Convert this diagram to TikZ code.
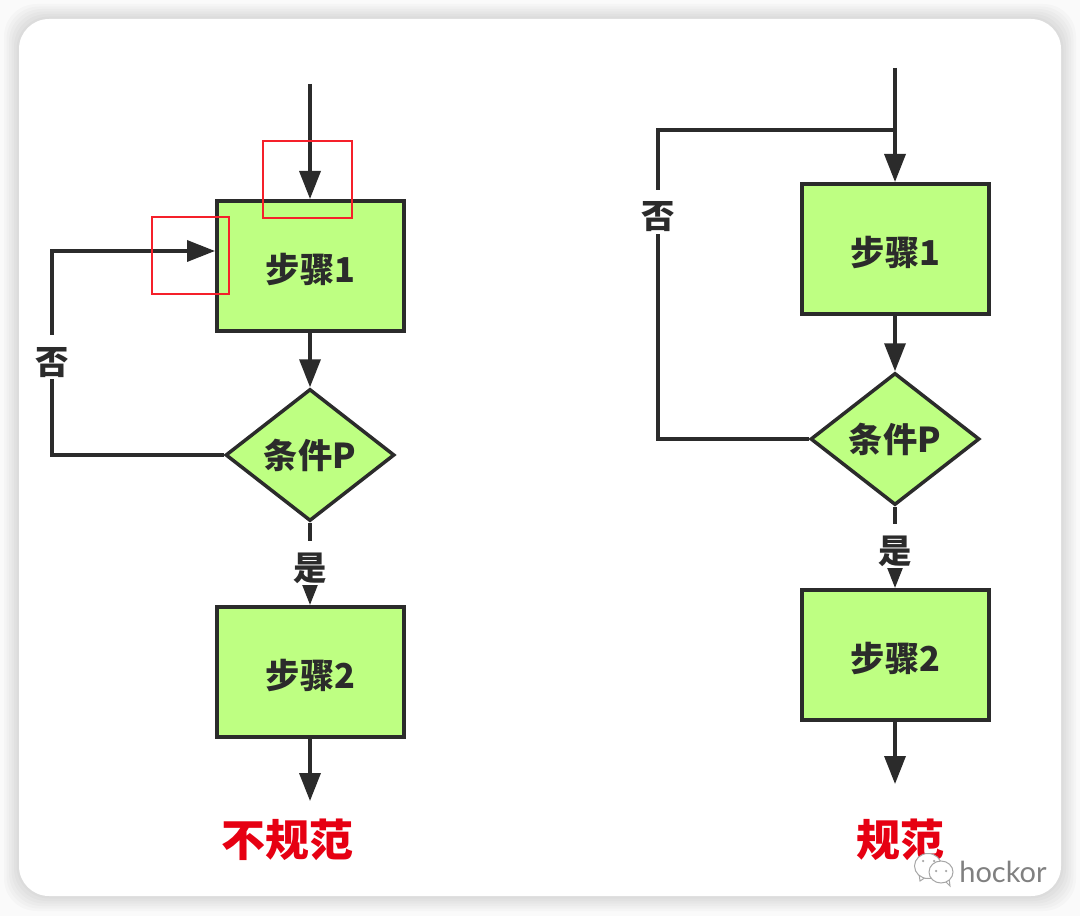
\documentclass[tikz,border=0pt]{standalone}
\usepackage{fontspec}
\usepackage{tikz}
\usetikzlibrary{arrows.meta,shapes.geometric}
\newfontfamily\cjk{Noto Sans CJK SC}
\setsansfont{Lato}
\definecolor{inkdark}{HTML}{2B2B2B}
\definecolor{boxgreen}{HTML}{BEFF82}
\definecolor{markred}{HTML}{F5202A}
\definecolor{tagred}{HTML}{E60012}
\tikzset{
	flow/.style={draw=inkdark, line width=0.07cm},
	go/.style={flow, -{Triangle[length=0.56cm,width=0.42cm]}},
	stepbox/.style={flow, line width=0.08cm, shape=rectangle, fill=boxgreen, minimum width=3.74cm, minimum height=2.6cm, text height=0.76cm, text depth=0.1cm, font=\cjk\bfseries\fontsize{19.5}{19.5}\selectfont, text=inkdark},
	condbox/.style={flow, shape=diamond, fill=boxgreen, aspect=1.3, minimum width=3.38cm, minimum height=2.64cm, inner sep=0pt, font=\cjk\bfseries\fontsize{19.5}{19.5}\selectfont, text=inkdark},
	branch/.style={fill=white, anchor=base, inner sep=0.04cm, text height=0.745cm, text depth=0.06cm, font=\cjk\bfseries\fontsize{19}{19}\selectfont, text=inkdark},
	verdict/.style={font=\cjk\bfseries\fontsize{25}{25}\selectfont, text=tagred},
	markbox/.style={draw=markred, line width=0.04cm, shape=rectangle, inner sep=0pt}
}
\begin{document}
\begin{tikzpicture}
		\useasboundingbox (0,0) rectangle (21.6,18.32);
		\fill[black!2] (0,0) rectangle (21.6,18.32);

		% card with its soft edge
		\foreach \g in {0.30,0.25,0.20,0.15,0.10,0.05} {
			\fill[black, opacity=0.018, rounded corners=0.65cm] (0.38-\g,0.40-\g) rectangle (21.22+\g,17.94+\g);
		}
		\fill[white, rounded corners=0.6cm] (0.38,0.40) rectangle (21.22,17.94);

		% left flow
		\coordinate (lin) at (6.2,16.64);
		\node[stepbox] (la) at (6.21,13) {步骤1};
		\node[condbox] (lp) at (6.2,9.22) {\raisebox{-0.05cm}{条件P}};
		\node[stepbox] (lb) at (6.21,4.88) {步骤2};
		\coordinate (lout) at (6.2,2.3);
		\coordinate (lback) at (1.04,13.3);
		\node[verdict] (lt) at (5.75,1.52) {不规范};

		\draw[go] (lin) -- (la.north -| lin);
		\draw[go] (la.south -| lp) -- (lp.north);
		\draw[go] (lp.south) -- (lb.north -| lp);
		\draw[go] (lb.south -| lp) -- (lout);
		\draw[go] (lp.west) -| (lback) -- (la.west |- lback);
		\node[branch] (lyes) at (6.2,6.715) {是};
		\node[branch] (lno) at (1.04,10.835) {否};

		% right flow
		\coordinate (rin) at (17.9,16.96);
		\coordinate (rjoin) at (17.9,15.72);
		\node[stepbox] (ra) at (17.91,13.34) {步骤1};
		\node[condbox] (rp) at (17.9,9.54) {\raisebox{-0.05cm}{条件P}};
		\node[stepbox] (rb) at (17.91,5.22) {步骤2};
		\coordinate (rout) at (17.9,2.64);
		\coordinate (rback) at (13.16,15.72);
		\node[verdict] (rt) at (18,1.52) {规范};

		\draw[go] (rin) -- (ra.north -| rin);
		\draw[go] (ra.south -| rp) -- (rp.north);
		\draw[go] (rp.south) -- (rb.north -| rp);
		\draw[go] (rb.south -| rp) -- (rout);
		\draw[flow] (rp.west) -| (rback) -- (rjoin);
		\node[branch] (ryes) at (17.9,7.055) {是};
		\node[branch] (rno) at (13.16,13.74) {否};

		% red marks on the left box
		\node[markbox, minimum width=1.78cm, minimum height=1.54cm] (mtop) at (6.15,14.73) {};
		\node[markbox, minimum width=1.54cm, minimum height=1.54cm] (mleft) at (3.81,13.21) {};

		% signature
		\begin{scope}[draw=black!35, fill=white, line width=0.02cm]
			\filldraw (18.38,0.84) -- (18.40,0.70) -- (18.52,0.78) -- cycle;
			\filldraw (18.56,1.0) ellipse (0.27cm and 0.25cm);
			\filldraw (18.9,0.70) -- (19.0,0.6) -- (18.98,0.76) -- cycle;
			\filldraw (18.82,0.88) ellipse (0.24cm and 0.22cm);
		\end{scope}
		\foreach \ex/\ey in {18.46/1.10, 18.68/1.10, 18.72/0.90, 18.92/0.90} {
			\fill[black!35] (\ex,\ey) circle (0.025cm);
		}
		\node[font=\sffamily\fontsize{16.5}{16.5}\selectfont, text=black!50, inner sep=0pt] (wm) at (20.06,0.88) {hockor};
	\end{tikzpicture}
\end{document}
